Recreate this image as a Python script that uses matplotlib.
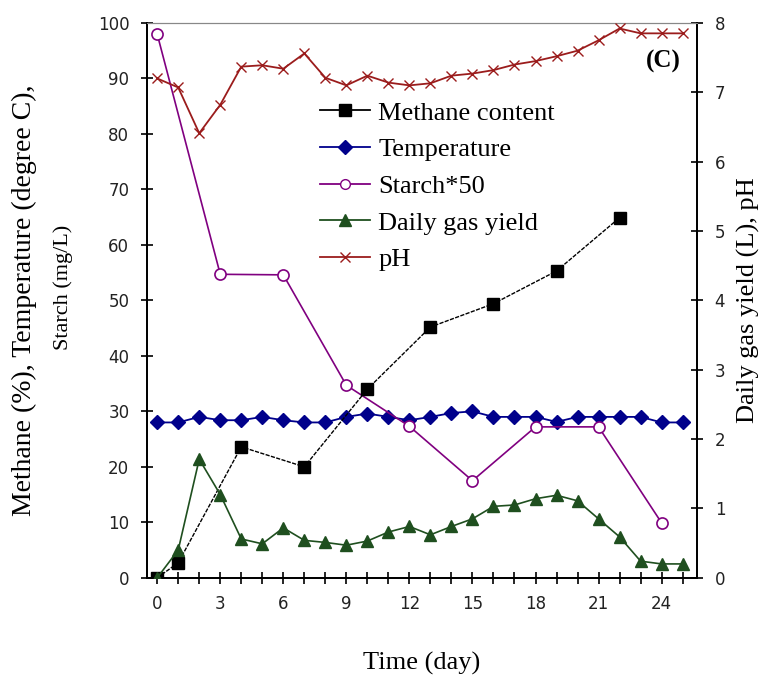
import numpy as np
import matplotlib.pyplot as plt
from matplotlib.lines import Line2D

# days
days = np.arange(0, 26)

# methane content (%), sampled every 3 days
methane_days = [0, 1, 4, 7, 10, 13, 16, 19, 22]
methane = [0, 2.7, 23.6, 20.0, 34.0, 45.2, 49.4, 55.3, 64.9]

# temperature (degree C), daily
temperature = [28.0, 28.0, 29.0, 28.4, 28.4, 29.0, 28.4, 28.0, 28.0, 29.0,
               29.6, 29.0, 28.4, 29.0, 29.7, 30.0, 29.0, 29.0, 29.0, 28.1,
               29.0, 29.0, 29.0, 29.0, 28.0, 28.0]

# starch * 50
starch_days = [0, 3, 6, 9, 12, 15, 18, 21, 24]
starch = [98.0, 54.7, 54.6, 34.7, 27.3, 17.5, 27.2, 27.2, 9.9]

# daily gas yield (L)
gas_yield = [0.0, 0.40, 1.71, 1.20, 0.56, 0.49, 0.72, 0.54, 0.51, 0.47,
             0.53, 0.66, 0.74, 0.62, 0.74, 0.85, 1.03, 1.05, 1.14, 1.19,
             1.11, 0.85, 0.59, 0.24, 0.20, 0.20]

# pH
ph = [7.20, 7.07, 6.41, 6.82, 7.37, 7.39, 7.34, 7.56, 7.21, 7.10,
      7.24, 7.14, 7.10, 7.13, 7.24, 7.27, 7.32, 7.40, 7.45, 7.52,
      7.60, 7.75, 7.92, 7.85, 7.85, 7.85]

serif = 'Liberation Serif'
sans = 'DejaVu Sans'

fig = plt.figure(figsize=(7.68, 6.75), dpi=100)
ax = fig.add_axes([0.191, 0.144, 0.717, 0.822])
ax2 = ax.twinx()

c_meth = 'black'
c_temp = '#00008b'
c_starch = '#800080'
c_gas = '#1f4f1f'
c_ph = '#9b1c1c'

ax.plot(methane_days, methane, color=c_meth, lw=1, ls=(0, (3, 1)),
        marker='s', ms=8, mfc='black', mec='black', zorder=5)
ax.plot(days, temperature, color=c_temp, lw=1.3,
        marker='D', ms=7, mfc=c_temp, mec=c_temp, zorder=4)
ax.plot(starch_days, starch, color=c_starch, lw=1.2,
        marker='o', ms=8, mfc='white', mec=c_starch, mew=1.2, zorder=4)
ax2.plot(days, gas_yield, color=c_gas, lw=1.2,
         marker='^', ms=9, mfc=c_gas, mec=c_gas, zorder=4)
ax2.plot(days, ph, color=c_ph, lw=1.3,
         marker='x', ms=7, mec=c_ph, mew=1.0, zorder=4)

ax.set_xlim(-0.5, 25.7)
ax.set_ylim(0, 100)
ax2.set_ylim(0, 8)

ax.set_xticks(np.arange(0, 26, 1), minor=True)
ax.set_xticks(np.arange(0, 25, 3))
ax.set_yticks(np.arange(0, 101, 10))
ax2.set_yticks(np.arange(0, 9, 1))

for a in (ax, ax2):
    a.tick_params(which='both', direction='inout', length=9, width=1.2,
                  labelsize=12, pad=8)
    for lab in a.get_xticklabels() + a.get_yticklabels():
        lab.set_fontfamily(sans)
        lab.set_color('#222222')
    a.spines['top'].set_color('#888888')
    a.spines['left'].set_linewidth(1.3)
    a.spines['right'].set_linewidth(1.3)
    a.spines['bottom'].set_linewidth(1.3)

ax.set_xlabel('Time (day)', fontsize=19, family=serif, labelpad=28)

# two-line left axis title
fig.text(24 / 768, 1 - 300 / 675, 'Methane (%), Temperature (degree C),',
         rotation=90, ha='center', va='center', fontsize=20, family=serif)
fig.text(63 / 768, 1 - 287 / 675, 'Starch (mg/L)',
         rotation=90, ha='center', va='center', fontsize=16, family=serif)

ax2.set_ylabel('Daily gas yield (L), pH', fontsize=19, family=serif,
               labelpad=8)

ax.text(0.969, 0.93, '(C)', transform=ax.transAxes, ha='right', va='center',
        fontsize=18, fontweight='bold', family=serif)

handles = [
    Line2D([], [], color=c_meth, lw=1.3, marker='s', ms=8),
    Line2D([], [], color=c_temp, lw=1.3, marker='D', ms=7),
    Line2D([], [], color=c_starch, lw=1.3, marker='o', ms=7, mfc='white'),
    Line2D([], [], color=c_gas, lw=1.3, marker='^', ms=8),
    Line2D([], [], color=c_ph, lw=1.3, marker='x', ms=7),
]
labels = ['Methane content', 'Temperature', 'Starch*50',
          'Daily gas yield', 'pH']
ax2.legend(handles, labels, loc='upper left', bbox_to_anchor=(0.315, 0.859),
           frameon=False, prop={'family': serif, 'size': 19},
           handlelength=1.9, handletextpad=0.3, labelspacing=0.5,
           borderaxespad=0, borderpad=0)

fig.savefig('out.png', dpi=100)
